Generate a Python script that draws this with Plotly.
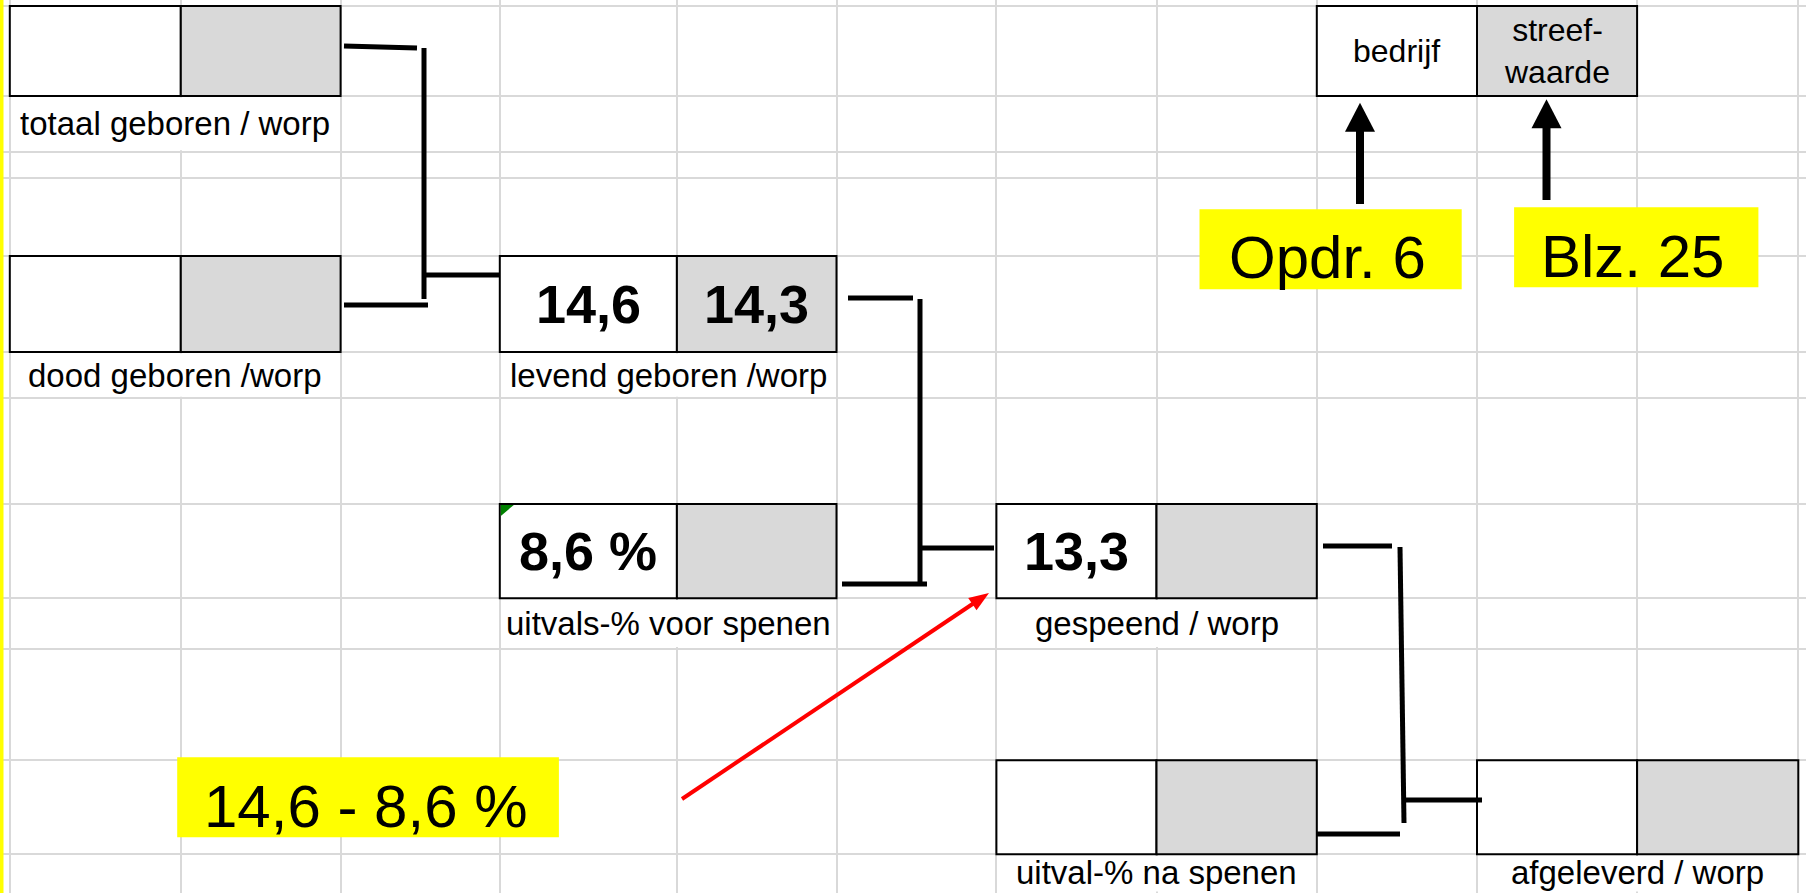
import math
import plotly.graph_objects as go

# ---------------- data ----------------
box_labels = [
    "totaal geboren / worp",
    "dood geboren /worp",
    "levend geboren /worp",
    "uitvals-% voor spenen",
    "gespeend / worp",
    "uitval-% na spenen",
    "afgeleverd / worp",
]
bedrijf_values = ["", "", "14,6", "8,6 %", "13,3", "", ""]
streef_values = ["", "", "14,3", "", "", "", ""]
legend_headers = ["bedrijf", "streef-<br>waarde"]
note_texts = ["Opdr. 6", "Blz. 25", "14,6 - 8,6 %"]

# ---------------- sheet geometry (pixels) ----------------
W, H = 1806, 893
COL_EDGES = [9.8, 180.8, 340.6, 499.8, 676.9, 836.5, 996.4, 1156.5, 1316.8, 1477.0, 1637.1, 1798.3]
ROW_EDGES = [6.0, 96.0, 151.7, 178.3, 256.0, 352.0, 398.3, 504.0, 598.3, 648.5, 760.3, 854.3, 890.0]
BOX_CELLS = [(0, 0), (0, 4), (3, 4), (3, 7), (6, 7), (6, 10), (9, 10)]   # (col, row) of box top-left
LEGEND_CELL = (8, 0)

NOTE_BOXES = [(1199.5, 209.3, 1461.7, 289.3), (1514.1, 207.3, 1758.4, 287.3), (177.2, 757.3, 558.9, 837.3)]
NOTE_TEXT_POS = [(1327.0, 257.0), (1632.0, 256.0), (366.0, 806.0)]

CONNECTORS = [
    (344, 46, 417, 48), (424, 48, 424, 299), (344, 305, 428, 305), (424, 275, 500, 275),
    (848, 298, 913, 298), (920, 299, 920, 584), (842, 584, 927, 584), (922, 548, 994, 548),
    (1323, 546, 1392, 546), (1400, 547, 1404, 823), (1317, 834, 1400, 834), (1404, 800, 1482, 800),
]
UP_ARROWS = [(1360.0, 204.0, 102.7), (1546.5, 200.0, 99.3)]
RED_ARROW = (682.0, 799.0, 989.0, 593.0)
GREEN_MARK = (499.8, 504.0, 14.0)

# ---------------- styles ----------------
GRID = "#d9d9d9"
CELL_GRAY = "#d9d9d9"
FONT = "Liberation Sans, Arial, sans-serif"
LABEL_SIZE = 33
VALUE_SIZE = 54
NOTE_SIZE = 60

shapes = []
annotations = []


def rect(x0, y0, x1, y1, fill, line_color=None, lw=0):
    shapes.append(dict(type="rect", xref="x", yref="y", x0=x0, y0=y0, x1=x1, y1=y1,
                       fillcolor=fill, line=dict(color=line_color or fill, width=lw)))


def seg(x0, y0, x1, y1, color, lw):
    shapes.append(dict(type="line", xref="x", yref="y", x0=x0, y0=y0, x1=x1, y1=y1,
                       line=dict(color=color, width=lw)))


def arrow(x0, y0, x1, y1, lw, head_len, head_w, color):
    L = math.hypot(x1 - x0, y1 - y0)
    ux, uy = (x1 - x0) / L, (y1 - y0) / L
    bx, by = x1 - ux * head_len, y1 - uy * head_len
    seg(x0, y0, bx + ux * 2, by + uy * 2, color, lw)
    px, py = -uy, ux
    h = head_w / 2
    path = (f"M {x1},{y1} L {bx + px * h},{by + py * h} "
            f"L {bx - px * h},{by - py * h} Z")
    shapes.append(dict(type="path", xref="x", yref="y", path=path,
                       fillcolor=color, line=dict(color=color, width=0)))


def text(x, y, s, size, bold=False):
    annotations.append(dict(x=x, y=y, xref="x", yref="y", text=f"<b>{s}</b>" if bold else s,
                            showarrow=False, xanchor="center", yanchor="middle",
                            font=dict(family=FONT, size=size, color="#000000")))


# left yellow band
rect(0, 0, 3.5, H, "#ffff00")

# yellow note boxes
for (x0, y0, x1, y1), (tx, ty), s in zip(NOTE_BOXES, NOTE_TEXT_POS, note_texts):
    rect(x0, y0, x1, y1, "#ffff00")
    text(tx, ty, s, NOTE_SIZE)

# value boxes with labels
for (c, r), lab, v1, v2 in zip(BOX_CELLS, box_labels, bedrijf_values, streef_values):
    xa, xm, xb = COL_EDGES[c], COL_EDGES[c + 1], COL_EDGES[c + 2]
    ya, yb = ROW_EDGES[r], ROW_EDGES[r + 1]
    # merged label cell (hides inner grid line)
    rect(xa + 1.5, yb + 1.5, xb - 1.5, min(ROW_EDGES[r + 2], H) - 1.5 + (3 if r + 2 == len(ROW_EDGES) - 1 else 0), "#ffffff")
    rect(xa, ya, xm, yb, "#ffffff", "#000000", 2)
    rect(xm, ya, xb, yb, CELL_GRAY, "#000000", 2)
    ym = (ya + yb) / 2
    if v1:
        text((xa + xm) / 2, ym, v1, VALUE_SIZE, bold=True)
    if v2:
        text((xm + xb) / 2, ym, v2, VALUE_SIZE, bold=True)
    text((xa + xb) / 2, (yb + ROW_EDGES[r + 2]) / 2, lab, LABEL_SIZE)

# legend box
c, r = LEGEND_CELL
xa, xm, xb = COL_EDGES[c], COL_EDGES[c + 1], COL_EDGES[c + 2]
ya, yb = ROW_EDGES[r], ROW_EDGES[r + 1]
rect(xa, ya, xm, yb, "#ffffff", "#000000", 2)
rect(xm, ya, xb, yb, CELL_GRAY, "#000000", 2)
text((xa + xm) / 2, (ya + yb) / 2, legend_headers[0], 32)
text((xm + xb) / 2, (ya + yb) / 2, legend_headers[1], 32)

# green corner mark
gx, gy, gs = GREEN_MARK
shapes.append(dict(type="path", xref="x", yref="y",
                   path=f"M {gx + 1},{gy + 1} L {gx + gs},{gy + 1} L {gx + 1},{gy + gs * 0.85} Z",
                   fillcolor="#008000", line=dict(color="#008000", width=0)))

# connector brackets
for x0, y0, x1, y1 in CONNECTORS:
    seg(x0, y0, x1, y1, "#000000", 5)

# arrows
for x, yt, ytip in UP_ARROWS:
    arrow(x, yt, x, ytip, 8, 29, 30, "#000000")
arrow(*RED_ARROW, 4, 20, 15, "#ff0000")

fig = go.Figure()
fig.update_layout(
    width=W, height=H,
    margin=dict(l=0, r=0, t=0, b=0),
    paper_bgcolor="#ffffff", plot_bgcolor="#ffffff",
    showlegend=False,
    shapes=shapes, annotations=annotations,
    xaxis=dict(range=[0, W], tickvals=COL_EDGES, showticklabels=False, ticks="",
               showgrid=True, gridcolor=GRID, gridwidth=2, zeroline=False, showline=False,
               fixedrange=True),
    yaxis=dict(range=[H, 0], tickvals=ROW_EDGES[:-1], showticklabels=False, ticks="",
               showgrid=True, gridcolor=GRID, gridwidth=2, zeroline=False, showline=False,
               fixedrange=True),
)
fig.write_html("out.html", config={"displayModeBar": False},
               post_script="document.body.style.margin='0';document.body.style.overflow='hidden';")
